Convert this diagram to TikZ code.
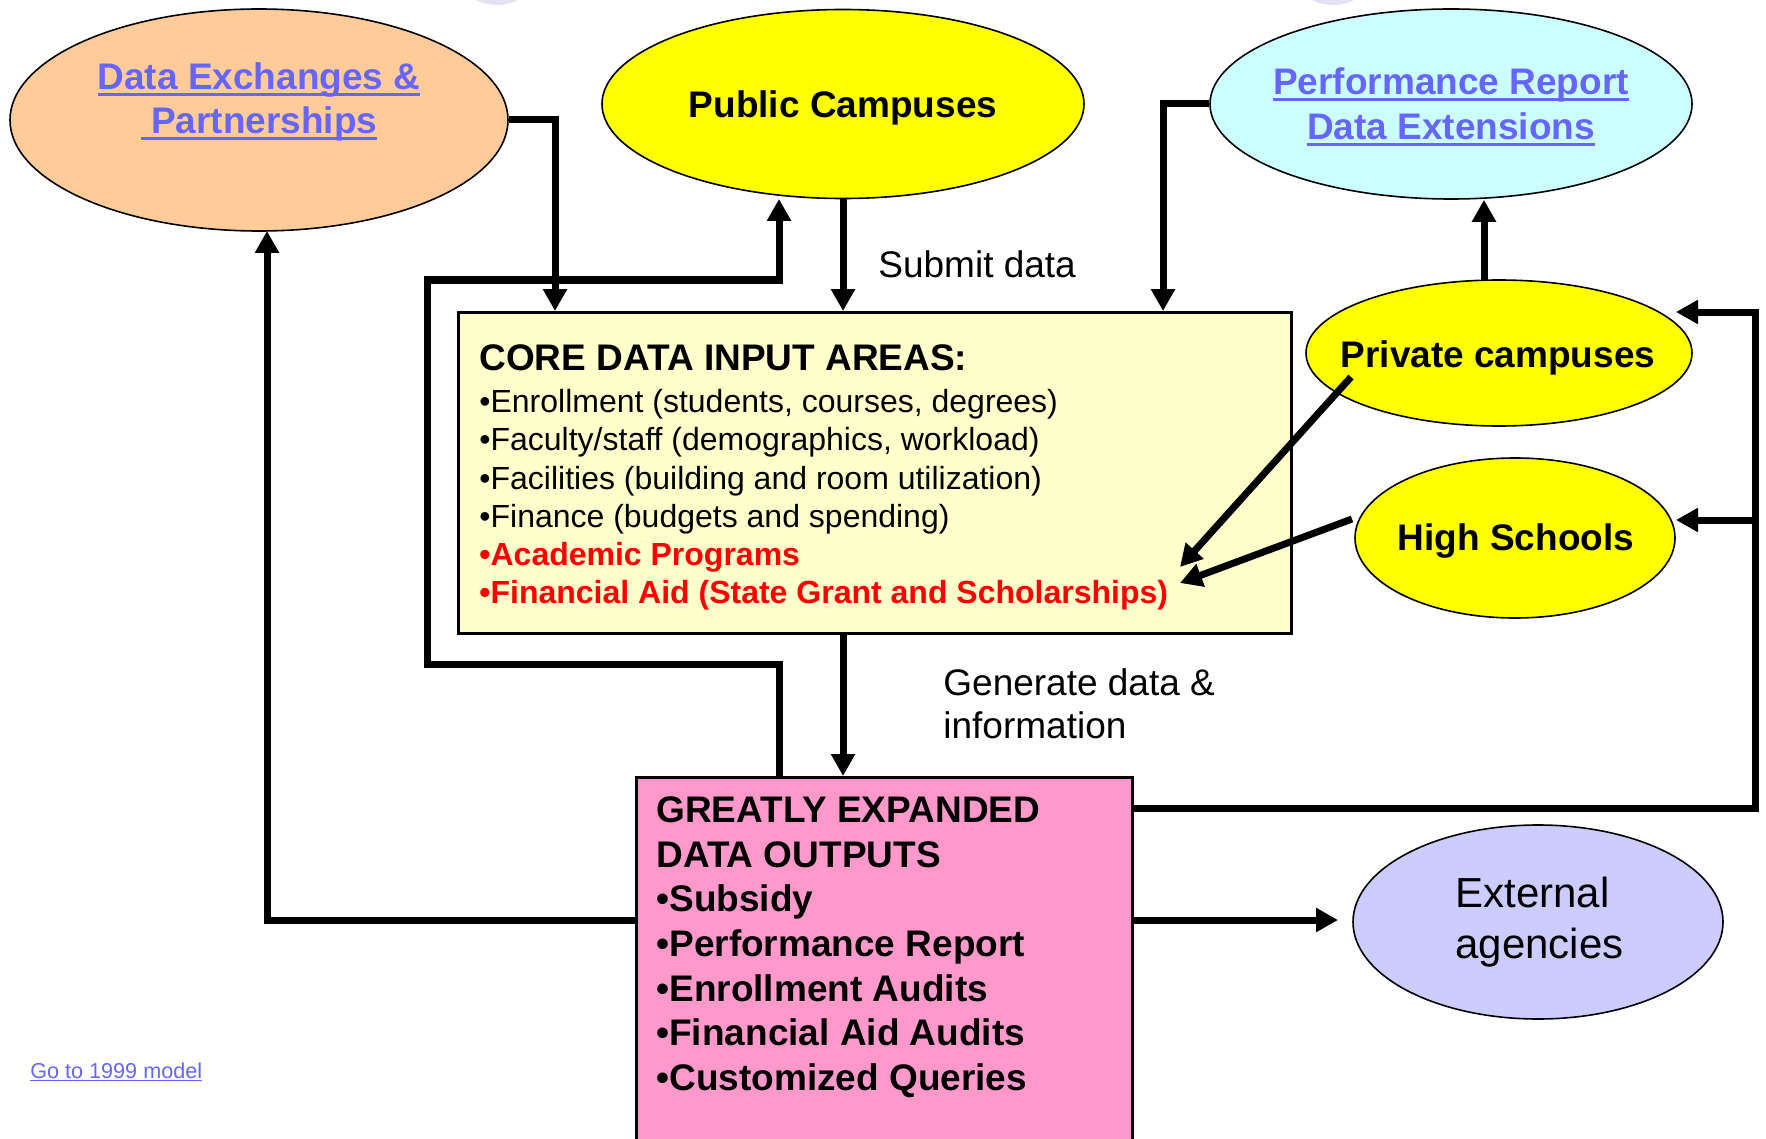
\documentclass[tikz,border=0pt]{standalone}
\usepackage{fontspec}
\setmainfont{Liberation Sans}
\usetikzlibrary{arrows.meta,shapes.geometric}
\definecolor{peach}{HTML}{FFCC99}
\definecolor{sunyellow}{HTML}{FFFF00}
\definecolor{paleCyan}{HTML}{CCFFFF}
\definecolor{lavender}{HTML}{CCCCFF}
\definecolor{faintLav}{HTML}{E2E2F2}
\definecolor{coreYellow}{HTML}{FFFFCC}
\definecolor{outPink}{HTML}{FF99CC}
\definecolor{linkBlue}{HTML}{6666FF}
\definecolor{alertRed}{HTML}{FF0000}
\newcommand\myul[1]{\setbox0\hbox{#1}\rlap{\rule[-3.25pt]{\wd0}{1.5pt}}\box0}
\newcommand\myulthin[1]{\setbox0\hbox{#1}\rlap{\rule[-1.6pt]{\wd0}{0.6pt}}\box0}
\begin{document}
\begin{tikzpicture}[x=0.5pt,y=-0.5pt,
  oval/.style={ellipse, draw=black, line width=0.8pt, inner sep=0pt},
  boxnode/.style={draw=black, line width=1.5pt, inner sep=0pt, anchor=north west},
  conn/.style={line width=3.5pt, line join=miter},
  arr/.style={conn, -{Triangle[length=11pt,width=11.5pt]}},
  bigb/.style={font=\fontsize{18.5}{22}\selectfont\bfseries, inner sep=0pt, anchor=base},
  bigr/.style={font=\fontsize{18.5}{22}\selectfont, inner sep=0pt, anchor=base west},
  item/.style={font=\fontsize{16}{19}\selectfont, inner sep=0pt, anchor=base west},
  outitem/.style={font=\fontsize{18.5}{22}\selectfont\bfseries, inner sep=0pt, anchor=base west},
  extt/.style={font=\fontsize{21}{25}\selectfont, inner sep=0pt, anchor=base west},
  linkt/.style={font=\fontsize{10.8}{13}\selectfont, text=linkBlue, inner sep=0pt, anchor=base west}
]
\useasboundingbox (0,0) rectangle (1766,1139);

% faint shapes cut off at the top edge
\fill[faintLav] (497,-22) ellipse [x radius=36, y radius=27];
\fill[faintLav] (1333,-22) ellipse [x radius=36, y radius=27];

% ellipses
\node[oval, fill=peach, minimum width=249pt, minimum height=111pt] (dx) at (259,120) {};
\node[oval, fill=sunyellow, minimum width=241pt, minimum height=94.5pt] (pc) at (843,104) {};
\node[oval, fill=paleCyan, minimum width=241pt, minimum height=95pt] (pr) at (1451,104) {};
\node[oval, fill=sunyellow, minimum width=193pt, minimum height=73pt] (priv) at (1499,353) {};
\node[oval, fill=sunyellow, minimum width=160pt, minimum height=80pt] (hs) at (1515,538) {};
\node[oval, fill=lavender, minimum width=185pt, minimum height=97pt] (ext) at (1538,922) {};

% boxes
\node[boxnode, fill=coreYellow, minimum width=416.5pt, minimum height=160.5pt] (core) at (457,311) {};
\node[boxnode, fill=outPink, minimum width=248pt, minimum height=200pt] (out) at (635,776) {};

% helper coordinates
\coordinate (dxcol) at (555,0);
\coordinate (prcol) at (1163,0);
\coordinate (midcol) at (843,0);
\coordinate (lpx) at (779,0);
\coordinate (lpl) at (427,664);
\coordinate (lpt) at (427,280);
\coordinate (pcin) at (779,199);
\coordinate (privtop) at (1484,280);
\coordinate (pa) at (1351,377);
\coordinate (pb) at (1180,567);
\coordinate (ha) at (1352,519);
\coordinate (hb) at (1180,583);
\coordinate (o1) at (1131,808);
\coordinate (o2) at (1131,920);
\coordinate (o3) at (635,920);
\coordinate (rcol) at (1755,0);
\coordinate (privin) at (1676,312);
\coordinate (hsin) at (1676,520);
\coordinate (extin) at (1338,920);
\coordinate (dxin) at (267,231);

% connectors
\draw[arr] (dx.east) -| (dxcol |- core.north);
\draw[arr] (midcol |- pc.south) -- (midcol |- core.north);
\draw[arr] (lpx |- out.north) -- (lpx |- lpl) -- (lpl) -- (lpt) -- (lpx |- lpt) -- (pcin);
\draw[arr] (pr.west) -| (prcol |- core.north);
\draw[arr] (privtop) -- (privtop |- pr.south);
\draw[arr] (pa) -- (pb);
\draw[arr] (ha) -- (hb);
\draw[arr] (midcol |- core.south) -- (midcol |- out.north);
\draw[arr] (o1) -| (rcol |- privin) -- (privin);
\draw[arr] (rcol |- hsin) -- (hsin);
\draw[arr] (o2) -- (extin);
\draw[arr] (o3) -| (dxin);

% ellipse texts
\node[bigb, text=linkBlue] (dxt1) at (259,90) {\myul{Data Exchanges \&}};
\node[bigb, text=linkBlue] (dxt2) at (259,134) {\myul{\ Partnerships}};
\node[bigb] (pct) at (843,118) {Public Campuses};
\node[bigb, text=linkBlue] (prt1) at (1451,95) {\myul{Performance Report}};
\node[bigb, text=linkBlue] (prt2) at (1451,140) {\myul{Data Extensions}};
\node[bigb] (privt) at (1498,367) {Private campuses};
\node[bigb] (hst) at (1516,550) {High Schools};
\node[extt] (ext1) at (1455,907) {External};
\node[extt] (ext2) at (1455,958) {agencies};

% labels
\node[bigr] (sub) at (878,278) {Submit data};
\node[bigr] (gen1) at (943,695) {Generate data \&};
\node[bigr] (gen2) at (943,738) {information};

% core box text
\node[outitem] (coret) at (479,370) {CORE DATA INPUT AREAS:};
\node[item] (ci1) at (479,412) {•Enrollment (students, courses, degrees)};
\node[item] (ci2) at (479,450) {•Faculty/staff (demographics, workload)};
\node[item] (ci3) at (479,489) {•Facilities (building and room utilization)};
\node[item] (ci4) at (479,527) {•Finance (budgets and spending)};
\node[item, text=alertRed, font=\fontsize{16}{19}\selectfont\bfseries] (ci5) at (479,565) {•Academic Programs};
\node[item, text=alertRed, font=\fontsize{16}{19}\selectfont\bfseries] (ci6) at (479,603) {•Financial Aid (State Grant and Scholarships)};

% output box text
\node[outitem] (oi1) at (656,822) {GREATLY EXPANDED};
\node[outitem] (oi2) at (656,867) {DATA OUTPUTS};
\node[outitem] (oi3) at (656,911) {•Subsidy};
\node[outitem] (oi4) at (656,956) {•Performance Report};
\node[outitem] (oi5) at (656,1001) {•Enrollment Audits};
\node[outitem] (oi6) at (656,1045) {•Financial Aid Audits};
\node[outitem] (oi7) at (656,1090) {•Customized Queries};

% link
\node[linkt] (go) at (30,1078) {\myulthin{Go to 1999 model}};
\end{tikzpicture}
\end{document}
